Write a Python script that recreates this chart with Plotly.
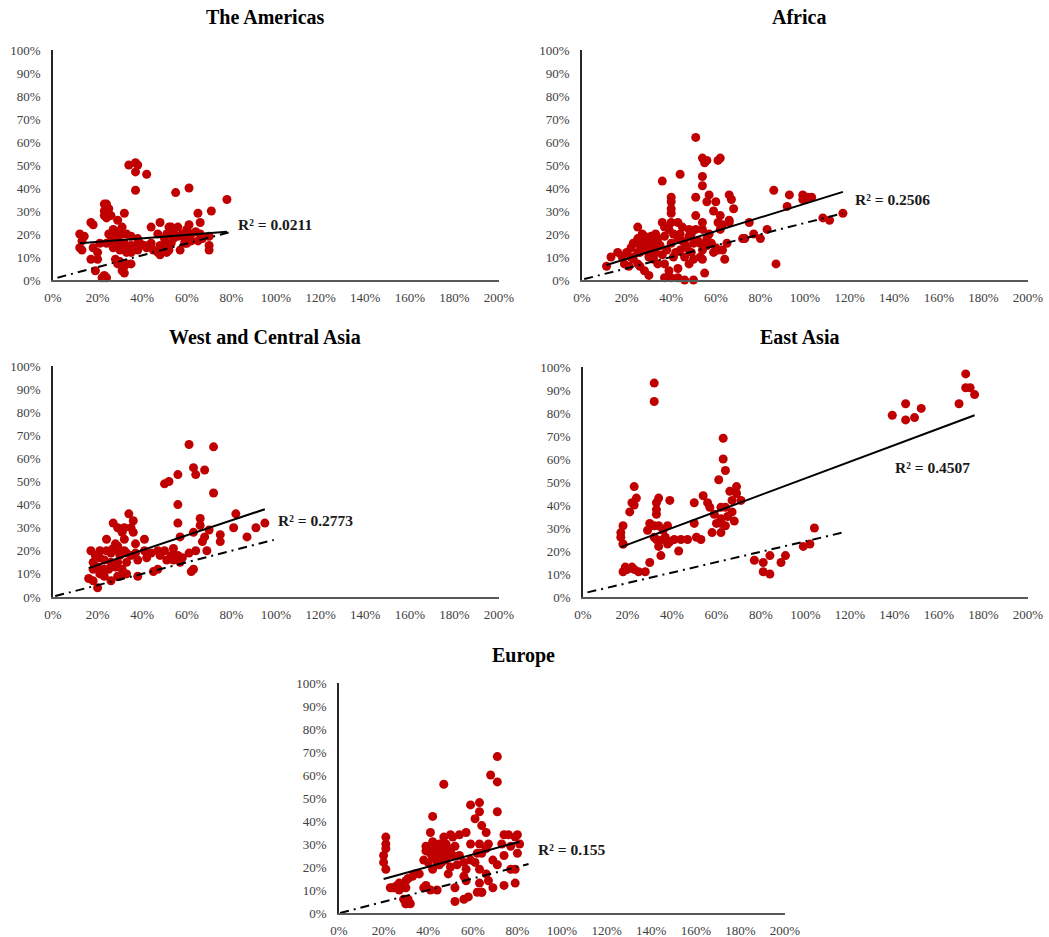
import plotly.graph_objects as go

FONT = "Liberation Serif, Times New Roman, serif"
RED = "#C00000"

regions = ["The Americas", "Africa", "West and Central Asia", "East Asia", "Europe"]
r2_labels = ["R² = 0.0211", "R² = 0.2506", "R² = 0.2773", "R² = 0.4507", "R² = 0.155"]
r2_pos_x = [0.82, 1.215, 1.0, 1.393, 0.883]
r2_pos_y = [0.24, 0.348, 0.333, 0.565, 0.274]

x_ticks = [0, 0.2, 0.4, 0.6, 0.8, 1.0, 1.2, 1.4, 1.6, 1.8, 2.0]
x_tick_labels = ["0%", "20%", "40%", "60%", "80%", "100%", "120%", "140%", "160%", "180%", "200%"]
y_ticks = [0, 0.1, 0.2, 0.3, 0.4, 0.5, 0.6, 0.7, 0.8, 0.9, 1.0]
y_tick_labels = ["0%", "10%", "20%", "30%", "40%", "50%", "60%", "70%", "80%", "90%", "100%"]

# ---------------- The Americas ----------------
americas_x = [0.34, 0.37, 0.38, 0.37, 0.42, 0.37, 0.55, 0.61, 0.78, 0.71, 0.65, 0.66, 0.61, 0.48, 0.44, 0.56, 0.53,
              0.23, 0.24, 0.25, 0.23, 0.23, 0.26, 0.24, 0.29, 0.32,
              0.17, 0.18, 0.12, 0.14, 0.12, 0.13, 0.13,
              0.18, 0.17, 0.20, 0.21, 0.20, 0.19, 0.23, 0.24, 0.22,
              0.28, 0.29, 0.31, 0.32, 0.33, 0.35, 0.30, 0.32,
              0.27, 0.29, 0.31, 0.33, 0.35, 0.38, 0.26, 0.29, 0.32, 0.35, 0.37, 0.39, 0.41, 0.27, 0.30, 0.33, 0.35,
              0.32, 0.29, 0.28, 0.31, 0.25, 0.24, 0.38, 0.42,
              0.44, 0.45, 0.47, 0.48, 0.50, 0.52, 0.53, 0.54, 0.56, 0.58, 0.59, 0.60, 0.62, 0.64, 0.66, 0.67, 0.70,
              0.70, 0.70, 0.47, 0.50, 0.51, 0.48, 0.51, 0.57, 0.59, 0.62, 0.65, 0.60, 0.54, 0.52]
americas_y = [0.50, 0.51, 0.50, 0.47, 0.46, 0.39, 0.38, 0.40, 0.35, 0.30, 0.29, 0.25, 0.24, 0.25, 0.23, 0.23, 0.23,
              0.33, 0.33, 0.31, 0.30, 0.28, 0.28, 0.27, 0.26, 0.29,
              0.25, 0.24, 0.20, 0.19, 0.14, 0.13, 0.17,
              0.14, 0.09, 0.09, 0.16, 0.12, 0.04, 0.02, 0.01, 0.01,
              0.09, 0.07, 0.04, 0.03, 0.07, 0.07, 0.08, 0.06,
              0.22, 0.21, 0.20, 0.20, 0.19, 0.18, 0.17, 0.16, 0.16, 0.15, 0.15, 0.16, 0.15, 0.14, 0.13, 0.12, 0.12,
              0.15, 0.18, 0.20, 0.23, 0.20, 0.16, 0.13, 0.14,
              0.16, 0.13, 0.12, 0.15, 0.15, 0.13, 0.16, 0.18, 0.19, 0.20, 0.18, 0.16, 0.20, 0.21, 0.20, 0.18, 0.19,
              0.15, 0.13, 0.20, 0.18, 0.20, 0.11, 0.12, 0.13, 0.16, 0.17, 0.17, 0.22, 0.21, 0.23]

# ---------------- Africa ----------------
africa_x = [0.51, 0.54, 0.56, 0.55, 0.62, 0.61, 0.44, 0.36, 0.54, 0.54, 0.51, 0.57, 0.56, 0.60, 0.40, 0.40, 0.40,
            0.40, 0.59, 0.66, 0.67, 0.68, 0.62, 0.61, 0.66, 0.54, 0.51, 0.86, 0.75, 0.77, 0.80, 0.83, 0.72, 0.73, 0.87,
            0.93, 0.92, 0.99, 1.01, 1.03, 0.99, 1.00, 1.17, 1.08, 1.11,
            0.11, 0.13, 0.18, 0.25, 0.22, 0.23, 0.25, 0.27, 0.28, 0.29,
            0.31, 0.33, 0.34, 0.35, 0.37, 0.23, 0.25, 0.26, 0.28, 0.30,
            0.30, 0.32, 0.34, 0.37, 0.37, 0.40, 0.43, 0.46, 0.50, 0.39,
            0.43, 0.48, 0.50, 0.53, 0.55, 0.54, 0.41, 0.44, 0.46, 0.48,
            0.50, 0.43, 0.45, 0.48, 0.49, 0.40, 0.39, 0.41, 0.43, 0.45,
            0.36, 0.37, 0.38, 0.40, 0.57, 0.58, 0.56, 0.60, 0.61, 0.63,
            0.65, 0.64, 0.62, 0.63, 0.66, 0.59, 0.54, 0.52, 0.51, 0.54,
            0.19, 0.21, 0.16, 0.20, 0.28, 0.26, 0.31, 0.33,
            0.28, 0.31, 0.33, 0.26, 0.30, 0.34, 0.22, 0.25, 0.32, 0.36, 0.42, 0.46, 0.44, 0.47, 0.49, 0.53, 0.56]
africa_y = [0.62, 0.53, 0.52, 0.51, 0.53, 0.52, 0.46, 0.43, 0.45, 0.41, 0.36, 0.37, 0.34, 0.34, 0.36, 0.34, 0.31,
            0.29, 0.30, 0.37, 0.35, 0.31, 0.28, 0.25, 0.26, 0.25, 0.28, 0.39, 0.25, 0.20, 0.18, 0.22, 0.18, 0.18, 0.07,
            0.37, 0.32, 0.37, 0.36, 0.36, 0.35, 0.35, 0.29, 0.27, 0.26,
            0.06, 0.10, 0.10, 0.23, 0.14, 0.16, 0.18, 0.20, 0.17, 0.16,
            0.19, 0.20, 0.16, 0.15, 0.19, 0.09, 0.07, 0.06, 0.04, 0.02,
            0.10, 0.09, 0.07, 0.07, 0.01, 0.01, 0.01, 0.00, 0.00, 0.04,
            0.05, 0.07, 0.09, 0.10, 0.03, 0.09, 0.10, 0.13, 0.16, 0.19,
            0.16, 0.25, 0.23, 0.22, 0.20, 0.25, 0.22, 0.20, 0.18, 0.17,
            0.25, 0.23, 0.13, 0.16, 0.20, 0.16, 0.15, 0.14, 0.13, 0.13,
            0.16, 0.09, 0.22, 0.24, 0.25, 0.12, 0.13, 0.17, 0.22, 0.22,
            0.07, 0.06, 0.12, 0.12, 0.13, 0.12, 0.12, 0.12,
            0.19, 0.17, 0.14, 0.15, 0.14, 0.18, 0.10, 0.12, 0.10, 0.11, 0.12, 0.10, 0.20, 0.14, 0.12, 0.16, 0.18]

# ---------------- West and Central Asia ----------------
wca_x = [0.61, 0.72, 0.63, 0.68, 0.64, 0.56, 0.50, 0.52, 0.72, 0.56,
         0.82, 0.34, 0.36, 0.66, 0.66, 0.70, 0.56, 0.27, 0.29, 0.35,
         0.32, 0.36, 0.31, 0.81, 0.91, 0.95, 0.87, 0.75, 0.75, 0.68,
         0.67, 0.63, 0.57, 0.64, 0.69, 0.54, 0.62, 0.63, 0.56, 0.58,
         0.57, 0.61, 0.47, 0.50, 0.48, 0.53, 0.54, 0.51, 0.44, 0.41,
         0.42, 0.41, 0.37, 0.32, 0.24, 0.37, 0.38, 0.47, 0.45, 0.38,
         0.33, 0.30,
         0.17, 0.19, 0.21, 0.21, 0.23, 0.24, 0.26, 0.27, 0.29, 0.30,
         0.32, 0.26, 0.28, 0.29, 0.31, 0.25, 0.23, 0.20, 0.18, 0.18,
         0.21, 0.23, 0.26, 0.29, 0.16, 0.18, 0.20, 0.33, 0.33, 0.35,
         0.29, 0.28]
wca_y = [0.66, 0.65, 0.56, 0.55, 0.53, 0.53, 0.49, 0.50, 0.45, 0.40,
         0.36, 0.36, 0.33, 0.34, 0.31, 0.29, 0.32, 0.32, 0.30, 0.30,
         0.30, 0.28, 0.28, 0.30, 0.30, 0.32, 0.26, 0.27, 0.24, 0.26,
         0.24, 0.28, 0.26, 0.20, 0.20, 0.21, 0.11, 0.12, 0.18, 0.17,
         0.15, 0.19, 0.20, 0.20, 0.18, 0.18, 0.16, 0.16, 0.19, 0.20,
         0.17, 0.25, 0.23, 0.25, 0.25, 0.19, 0.16, 0.12, 0.11, 0.09,
         0.10, 0.09,
         0.20, 0.18, 0.17, 0.20, 0.16, 0.20, 0.19, 0.21, 0.20, 0.18,
         0.20, 0.15, 0.13, 0.15, 0.12, 0.12, 0.12, 0.13, 0.15, 0.12,
         0.10, 0.09, 0.07, 0.09, 0.08, 0.07, 0.04, 0.15, 0.19, 0.18,
         0.22, 0.23]

# ---------------- East Asia ----------------
east_asia_x = [0.32, 0.32, 0.63, 0.63, 0.64, 0.61, 0.23, 0.24, 0.23, 0.21,
               0.22, 0.34, 0.39, 0.33, 0.33, 0.33, 0.54, 0.50, 0.56, 0.57,
               0.66, 0.69, 0.69, 0.67, 0.71, 0.62, 0.64, 0.67, 0.65, 0.68,
               0.62, 0.60, 0.62, 0.64, 0.59, 0.62, 0.58, 0.50, 0.51, 0.53,
               0.47, 0.44, 0.41, 0.43, 0.39, 0.38, 0.36, 0.35, 0.34, 0.33,
               0.32, 0.29, 0.30, 0.32, 0.34, 0.36, 0.37, 0.38, 0.30, 0.28,
               0.17, 0.18, 0.18, 0.18, 0.17, 0.19, 0.20, 0.22, 0.23, 0.25,
               0.18, 0.77, 0.81, 0.84, 0.81, 0.84, 0.89, 0.91, 0.99, 1.02,
               1.39, 1.45, 1.45, 1.49, 1.52, 1.69, 1.72, 1.72, 1.74, 1.76,
               1.04]
east_asia_y = [0.93, 0.85, 0.69, 0.60, 0.55, 0.51, 0.48, 0.43, 0.40, 0.37,
               0.41, 0.43, 0.42, 0.41, 0.38, 0.36, 0.44, 0.41, 0.41, 0.39,
               0.46, 0.48, 0.45, 0.42, 0.42, 0.39, 0.39, 0.37, 0.35, 0.33,
               0.34, 0.32, 0.32, 0.31, 0.36, 0.28, 0.28, 0.32, 0.26, 0.25,
               0.25, 0.25, 0.25, 0.20, 0.24, 0.23, 0.25, 0.18, 0.22, 0.25,
               0.26, 0.29, 0.32, 0.31, 0.31, 0.29, 0.26, 0.31, 0.15, 0.11,
               0.28, 0.31, 0.23, 0.23, 0.26, 0.13, 0.12, 0.13, 0.12, 0.11,
               0.11, 0.16, 0.15, 0.18, 0.11, 0.10, 0.15, 0.18, 0.22, 0.23,
               0.79, 0.84, 0.77, 0.78, 0.82, 0.84, 0.97, 0.91, 0.91, 0.88,
               0.30]

# ---------------- Europe ----------------
europe_x = [0.71, 0.68, 0.71, 0.47, 0.59, 0.63, 0.63, 0.71, 0.61, 0.42,
            0.64, 0.66, 0.21, 0.21, 0.21, 0.20, 0.20, 0.21, 0.41, 0.42,
            0.74, 0.76, 0.80, 0.79, 0.81, 0.77, 0.80, 0.73, 0.71, 0.69,
            0.67, 0.66, 0.63, 0.64, 0.62, 0.59, 0.57, 0.54, 0.51, 0.50,
            0.48, 0.47, 0.45, 0.44, 0.42, 0.41, 0.39, 0.39, 0.38, 0.40,
            0.42, 0.44, 0.46, 0.48, 0.48, 0.50, 0.51, 0.53, 0.54, 0.56,
            0.57, 0.56, 0.57, 0.56, 0.52, 0.58, 0.52, 0.49, 0.59, 0.61,
            0.63, 0.66, 0.63, 0.64, 0.62, 0.64, 0.67, 0.69, 0.74, 0.79,
            0.79, 0.77, 0.74, 0.39, 0.41, 0.44, 0.38, 0.36, 0.34, 0.33,
            0.31, 0.30, 0.27, 0.26, 0.24, 0.23, 0.25, 0.27, 0.28, 0.30,
            0.29, 0.30, 0.32, 0.31, 0.30,
            0.43, 0.44, 0.45, 0.46, 0.47, 0.42, 0.44, 0.46, 0.48, 0.45, 0.41, 0.43, 0.49, 0.50, 0.52]
europe_y = [0.68, 0.60, 0.57, 0.56, 0.47, 0.48, 0.44, 0.44, 0.41, 0.42,
            0.38, 0.35, 0.33, 0.30, 0.28, 0.25, 0.22, 0.19, 0.35, 0.31,
            0.34, 0.34, 0.34, 0.33, 0.30, 0.29, 0.26, 0.30, 0.21, 0.23,
            0.30, 0.28, 0.30, 0.26, 0.26, 0.30, 0.35, 0.34, 0.33, 0.34,
            0.30, 0.33, 0.30, 0.29, 0.27, 0.26, 0.29, 0.27, 0.23, 0.22,
            0.19, 0.22, 0.25, 0.27, 0.23, 0.20, 0.25, 0.21, 0.25, 0.22,
            0.19, 0.16, 0.14, 0.06, 0.05, 0.07, 0.11, 0.17, 0.23, 0.22,
            0.19, 0.17, 0.13, 0.09, 0.09, 0.09, 0.14, 0.11, 0.12, 0.13,
            0.19, 0.19, 0.25, 0.12, 0.10, 0.10, 0.11, 0.17, 0.17, 0.16,
            0.15, 0.14, 0.13, 0.12, 0.11, 0.11, 0.11, 0.10, 0.11, 0.11,
            0.06, 0.04, 0.04, 0.06, 0.04,
            0.25, 0.23, 0.27, 0.22, 0.28, 0.24, 0.26, 0.26, 0.25, 0.21, 0.27, 0.29, 0.28, 0.27, 0.29]

# ---------------- trend (solid) and reference (dash-dot) lines ----------------
fit_x = [[0.12, 0.78], [0.11, 1.17], [0.16, 0.95], [0.17, 1.76], [0.20, 0.81]]
fit_y = [[0.16, 0.21], [0.065, 0.383], [0.125, 0.38], [0.217, 0.79], [0.148, 0.31]]
ref_x = [[0.02, 0.80], [0.01, 1.17], [0.01, 0.99], [0.02, 1.18], [0.005, 0.85]]
ref_y = [[0.01, 0.21], [0.004, 0.29], [0.004, 0.247], [0.02, 0.283], [0.0, 0.213]]

xs = [americas_x, africa_x, wca_x, east_asia_x, europe_x]
ys = [americas_y, africa_y, wca_y, east_asia_y, europe_y]

W, H = 1049, 937
# plot-area pixel boxes (left, right, top, bottom)
boxes = [(53, 499, 50, 280), (582, 1028, 50, 280), (53, 499, 366, 597),
         (583, 1028, 367, 597), (339, 785, 683, 913)]
title_pos = [(265, 17), (799, 17), (265, 337), (799, 337), (523, 655)]

fig = go.Figure()
layout = dict(width=W, height=H, margin=dict(l=0, r=0, t=0, b=0, autoexpand=False),
              paper_bgcolor="white", plot_bgcolor="white", showlegend=False)
annotations = []

for i in range(5):
    sfx = "" if i == 0 else str(i + 1)
    xa, ya = "x" + sfx, "y" + sfx
    l, r, t, b = boxes[i]
    layout["xaxis" + sfx] = dict(
        domain=[l / W, r / W], anchor=ya, range=[0, 2], tickvals=x_ticks, ticktext=x_tick_labels,
        showgrid=False, zeroline=False, showline=True, linecolor="#595959", linewidth=1.5,
        ticks="", ticklabelstandoff=5, automargin=False,
        tickfont=dict(family=FONT, size=13, color="#404040"), fixedrange=True)
    layout["yaxis" + sfx] = dict(
        domain=[1 - b / H, 1 - t / H], anchor=xa, range=[0, 1], tickvals=y_ticks, ticktext=y_tick_labels,
        showgrid=False, zeroline=False, showline=True, linecolor="#262626", linewidth=1.5,
        ticks="", ticklabelstandoff=8, automargin=False,
        tickfont=dict(family=FONT, size=13, color="#404040"), fixedrange=True)

    fig.add_trace(go.Scatter(x=xs[i], y=ys[i], mode="markers", xaxis=xa, yaxis=ya,
                             marker=dict(color=RED, size=9, line=dict(width=0)), cliponaxis=False))
    fig.add_trace(go.Scatter(x=ref_x[i], y=ref_y[i], mode="lines", xaxis=xa, yaxis=ya,
                             line=dict(color="black", width=2, dash="9px,5px,2px,5px")))
    fig.add_trace(go.Scatter(x=fit_x[i], y=fit_y[i], mode="lines", xaxis=xa, yaxis=ya,
                             line=dict(color="black", width=2)))

    annotations.append(dict(x=r2_pos_x[i], y=r2_pos_y[i], xref=xa, yref=ya, text="<b>" + r2_labels[i] + "</b>",
                            showarrow=False, xanchor="left", yanchor="middle",
                            font=dict(family=FONT, size=15.5, color="#1a1a1a")))
    tx, ty = title_pos[i]
    annotations.append(dict(x=tx / W, y=1 - ty / H, xref="paper", yref="paper",
                            text="<b>" + regions[i] + "</b>", showarrow=False,
                            xanchor="center", yanchor="middle",
                            font=dict(family=FONT, size=20, color="black")))

layout["annotations"] = annotations
fig.update_layout(**layout)
fig.write_html("out.html")
